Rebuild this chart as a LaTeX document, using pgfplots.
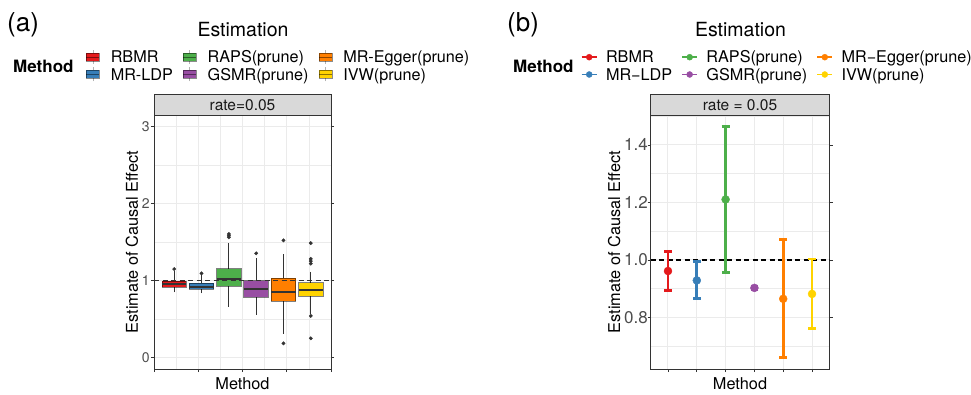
\documentclass[border=0pt]{standalone}
\usepackage{pgfplots}
\pgfplotsset{compat=1.18}
\usepgfplotslibrary{statistics}
\usepackage{fontspec}
\setmainfont{TeX Gyre Heros}
\definecolor{cR}{HTML}{E41A1C}
\definecolor{cB}{HTML}{377EB8}
\definecolor{cG}{HTML}{4DAF4A}
\definecolor{cP}{HTML}{984EA3}
\definecolor{cO}{HTML}{FF7F00}
\definecolor{cY}{HTML}{FFD300}
\definecolor{gridc}{HTML}{EBEBEB}
\definecolor{frame}{HTML}{333333}
\definecolor{stripc}{HTML}{D9D9D9}
\definecolor{tickc}{HTML}{4D4D4D}
% invisible spacer that fixes the width of a legend image cell
\newcommand{\spacer}[2]{\node[draw=none, fill=none, inner sep=0pt, outer sep=0pt, minimum width=#2bp, minimum height=0pt, text height=0pt, text depth=0pt, anchor=west] at (-#1bp,0bp) {};}
\newcommand{\boxkey}[1]{\addlegendimage{legend image code/.code={
  \spacer{10}{34.8}
  \draw[line width=0.8bp, black!30] (7bp,-7bp) -- (7bp,7bp);
  \filldraw[fill=#1, draw=black, draw opacity=0.45, line width=0.6bp] (0.5bp,-4bp) rectangle (13.5bp,4bp);
  \draw[line width=0.9bp, black, opacity=0.45] (0.5bp,0bp) -- (13.5bp,0bp);
}}}
\newcommand{\ptkey}[1]{\addlegendimage{legend image code/.code={
  \spacer{10}{34.3}
  \draw[line width=1.6bp, #1] (0bp,0bp) -- (15bp,0bp);
  \fill[#1] (7.5bp,0bp) circle (3bp);
}}}
\pgfplotsset{
  panel/.style={
    scale only axis, anchor=south west, height=254bp,
    axis line style={draw=frame, line width=0.8bp},
    grid=both,
    major grid style={draw=gridc, line width=1bp},
    minor grid style={draw=gridc, line width=0.5bp},
    tick align=outside, major tick length=3.2bp, minor tick length=0pt,
    every tick/.style={draw=frame, line width=0.8bp},
    xticklabels={{},{},{},{},{},{},{},{}},
    yticklabel style={text=tickc, inner sep=0pt, anchor=east},
    /pgf/number format/assume math mode=true,
    label style={font=\fontsize{16.3bp}{19bp}\selectfont, inner sep=0pt},
    xlabel=Method,
    ylabel=Estimate of Causal Effect,
    xlabel style={at={(axis description cs:0.5,-0.059)}, anchor=center},
    legend columns=3, legend cell align=left,
    legend style={draw=none, fill=none, inner sep=0pt, outer sep=0pt, anchor=north west,
      font=\fontsize{16.2bp}{19bp}\selectfont, row sep=1.9bp, column sep=0pt,
      nodes={inner sep=0pt, outer sep=0pt, text height=13.5bp, text depth=1.9bp}},
    boxplot/draw direction=y,
    boxplot/whisker extend=0,
    boxplot/every whisker/.style={draw=frame, line width=1bp},
    boxplot/every median/.style={draw=frame, line width=2.2bp},
    boxplot/every box/.style={draw=black, draw opacity=0.5, line width=0.9bp},
  },
  bx/.style={forget plot, boxplot prepared={draw position=#1, box extend=0.554}},
  outl/.style={forget plot, only marks, mark=*, mark size=1.7bp, draw=frame, fill=frame},
  pe/.style={mark=*, mark size=4bp, only marks, draw=#1, fill=#1, mark options={draw=#1, fill=#1},
    error bars/.cd, y dir=both, y explicit,
    error bar style={line width=2.7bp, draw=#1},
    error mark options={rotate=90, line width=2.7bp, mark size=3.9bp, draw=#1}},
}
\begin{document}
\begin{tikzpicture}[x=1bp,y=1bp]
\path[use as bounding box] (0,0) rectangle (971,394);
% ---------------- panel (a)
\begin{axis}[panel, at={(154bp,25bp)}, width=177bp,
  xmin=0, xmax=4, ymin=-0.15, ymax=3.15,
  xtick={0,1,2,3,4}, minor xtick={0.5,1.5,2.5,3.5},
  ytick={0,1,2,3}, minor ytick={0.5,1.5,2.5},
  yticklabel style={font=\fontsize{14bp}{17bp}\selectfont, xshift=-1bp},
  ylabel style={at={(axis description cs:-0.124,0.5)}, anchor=center},
  legend style={at={(axis description cs:-0.4407,1.2579)}}]
\boxkey{cR}\addlegendentry{RBMR}
\boxkey{cG}\addlegendentry{RAPS(prune)}
\boxkey{cO}\addlegendentry{MR-Egger(prune)}
\boxkey{cB}\addlegendentry{MR-LDP}
\boxkey{cP}\addlegendentry{GSMR(prune)}
\boxkey{cY}\addlegendentry{IVW(prune)}
\addplot[bx=0.457, fill=cR, boxplot prepared={lower whisker=0.846, lower quartile=0.911, median=0.955, upper quartile=0.993, upper whisker=1.12}] coordinates {};
\addplot[bx=1.074, fill=cB, boxplot prepared={lower whisker=0.833, lower quartile=0.885, median=0.919, upper quartile=0.963, upper whisker=1.067}] coordinates {};
\addplot[bx=1.691, fill=cG, boxplot prepared={lower whisker=0.659, lower quartile=0.928, median=1.019, upper quartile=1.153, upper whisker=1.483}] coordinates {};
\addplot[bx=2.309, fill=cP, boxplot prepared={lower whisker=0.556, lower quartile=0.781, median=0.893, upper quartile=0.997, upper whisker=1.288}] coordinates {};
\addplot[bx=2.926, fill=cO, boxplot prepared={lower whisker=0.305, lower quartile=0.730, median=0.854, upper quartile=1.028, upper whisker=1.344}] coordinates {};
\addplot[bx=3.543, fill=cY, boxplot prepared={lower whisker=0.565, lower quartile=0.798, median=0.876, upper quartile=0.971, upper whisker=1.114}] coordinates {};
\addplot[outl] coordinates {(0.457,1.149) (1.074,1.093) (1.691,1.604) (1.691,1.582) (1.691,1.561)
  (2.309,1.353) (2.926,1.522) (2.926,0.184) (3.543,1.485) (3.543,1.281) (3.543,1.251) (3.543,1.220)
  (3.543,0.539) (3.543,0.249)};
\addplot[forget plot, frame, line width=1.6bp, dash pattern=on 5bp off 3.5bp] coordinates {(0,1) (4,1)};
\end{axis}
% ---------------- panel (b)
\begin{axis}[panel, at={(650.7bp,25bp)}, width=178.6bp,
  xmin=0.4, xmax=6.6, ymin=0.621, ymax=1.504,
  xtick={1,2,3,4,5,6}, minor xtick={},
  ytick={0.8,1.0,1.2,1.4}, minor ytick={0.7,0.9,1.1,1.3,1.5},
  yticklabel style={font=\fontsize{17bp}{20bp}\selectfont, xshift=0.5bp, /pgf/number format/.cd, fixed, fixed zerofill, precision=1},
  ylabel style={at={(axis description cs:-0.2044,0.5)}, anchor=center},
  legend style={at={(axis description cs:-0.4423,1.2579)}}]
\ptkey{cR}\addlegendentry{RBMR}
\ptkey{cG}\addlegendentry{RAPS(prune)}
\ptkey{cO}\addlegendentry{MR−Egger(prune)}
\ptkey{cB}\addlegendentry{MR−LDP}
\ptkey{cP}\addlegendentry{GSMR(prune)}
\ptkey{cY}\addlegendentry{IVW(prune)}
\addplot[forget plot, black, line width=1.3bp, dash pattern=on 5bp off 3.5bp] coordinates {(0.4,1) (6.6,1)};
\addplot[forget plot, pe=cR] coordinates {(1,0.9616) += (0,0.0674) -= (0,0.0666)};
\addplot[forget plot, pe=cB] coordinates {(2,0.929) += (0,0.065) -= (0,0.063)};
\addplot[forget plot, pe=cG] coordinates {(3,1.2105) += (0,0.2535) -= (0,0.2545)};
\addplot[forget plot, pe=cP] coordinates {(4,0.903) += (0,0.006) -= (0,0.006)};
\addplot[forget plot, pe=cO] coordinates {(5,0.865) += (0,0.205) -= (0,0.204)};
\addplot[forget plot, pe=cY] coordinates {(6,0.882) += (0,0.1215) -= (0,0.119)};
\end{axis}
% ---------------- strips and titles
\draw[fill=stripc, draw=frame, line width=0.8bp] (154,279) rectangle (331,300);
\node[font=\fontsize{15.5bp}{18bp}\selectfont, text=black!90, inner sep=0pt] at (242.5,288.5) {rate=0.05};
\draw[fill=stripc, draw=frame, line width=0.8bp] (650.7,279) rectangle (829.3,300);
\node[font=\fontsize{15.5bp}{18bp}\selectfont, text=black!90, inner sep=0pt] at (740,288.5) {rate = 0.05};
\node[font=\fontsize{26bp}{30bp}\selectfont, anchor=west, inner sep=0pt] at (7,369) {(a)};
\node[font=\fontsize{26bp}{30bp}\selectfont, anchor=west, inner sep=0pt] at (507,369) {(b)};
\node[font=\fontsize{19.5bp}{22bp}\selectfont, inner sep=0pt] at (243,364) {Estimation};
\node[font=\fontsize{19.5bp}{22bp}\selectfont, inner sep=0pt] at (740.5,364) {Estimation};
\node[font=\bfseries\fontsize{17bp}{20bp}\selectfont, anchor=west, inner sep=0pt] at (13,327.8) {Method};
\node[font=\bfseries\fontsize{17bp}{20bp}\selectfont, anchor=west, inner sep=0pt] at (513,327.8) {Method};
\end{tikzpicture}
\end{document}
